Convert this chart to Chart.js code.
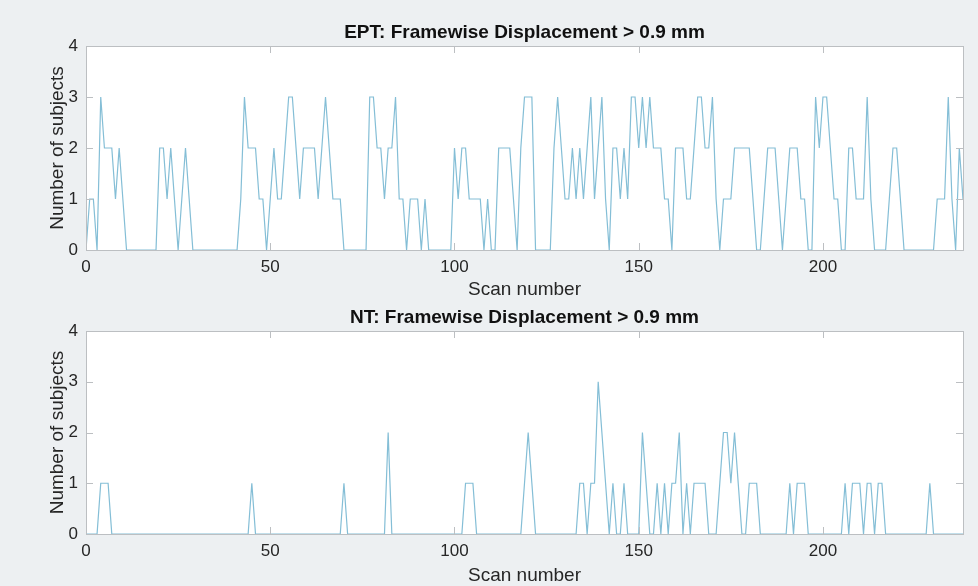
<!DOCTYPE html>
<html><head><meta charset="utf-8">
<script src="https://cdn.jsdelivr.net/npm/chart.js@4.4.1/dist/chart.umd.min.js"></script>
<style>
html,body{margin:0;padding:0;background:#edf0f2;}
#wrap{position:relative;width:978px;height:586px;overflow:hidden;background:#edf0f2;}
canvas{position:absolute;left:0;}
</style></head><body>
<div id="wrap">
<canvas id="c1" width="978" height="300" style="top:0"></canvas>
<canvas id="c2" width="978" height="286" style="top:300px"></canvas>
</div>
<script>
const scanStart = 0;
const scanEnd = 238;
const xTicks = [0, 50, 100, 150, 200];
const yTicks = [0, 1, 2, 3, 4];
const titles = ['EPT: Framewise Displacement > 0.9 mm', 'NT: Framewise Displacement > 0.9 mm'];
const xLabel = 'Scan number';
const yLabel = 'Number of subjects';

const eptCounts = [
  0,1,1,0,3,2,2,2,1,2,
  1,0,0,0,0,0,0,0,0,0,
  2,2,1,2,1,0,1,2,1,0,
  0,0,0,0,0,0,0,0,0,0,
  0,0,1,3,2,2,2,1,1,0,
  1,2,1,1,2,3,3,2,1,2,
  2,2,2,1,2,3,2,1,1,1,
  0,0,0,0,0,0,0,3,3,2,
  2,1,2,2,3,1,1,0,1,1,
  1,0,1,0,0,0,0,0,0,0,
  2,1,2,2,1,1,1,1,0,1,
  0,0,2,2,2,2,1,0,2,3,
  3,3,0,0,0,0,0,2,3,2,
  1,1,2,1,2,1,2,3,1,2,
  3,1,0,2,2,1,2,1,3,3,
  2,3,2,3,2,2,2,1,1,0,
  2,2,2,1,1,2,3,3,2,2,
  3,1,0,1,1,1,2,2,2,2,
  2,1,0,0,1,2,2,2,1,0,
  1,2,2,2,1,1,0,0,3,2,
  3,3,2,1,1,0,0,2,2,1,
  1,1,3,1,0,0,0,0,1,2,
  2,1,0,0,0,0,0,0,0,0,
  0,1,1,1,3,1,0,2,1
];

const ntCounts = [
  0,0,0,0,1,1,1,0,0,0,
  0,0,0,0,0,0,0,0,0,0,
  0,0,0,0,0,0,0,0,0,0,
  0,0,0,0,0,0,0,0,0,0,
  0,0,0,0,0,1,0,0,0,0,
  0,0,0,0,0,0,0,0,0,0,
  0,0,0,0,0,0,0,0,0,0,
  1,0,0,0,0,0,0,0,0,0,
  0,0,2,0,0,0,0,0,0,0,
  0,0,0,0,0,0,0,0,0,0,
  0,0,0,1,1,1,0,0,0,0,
  0,0,0,0,0,0,0,0,0,1,
  2,1,0,0,0,0,0,0,0,0,
  0,0,0,0,1,1,0,1,1,3,
  2,1,0,1,0,0,1,0,0,0,
  0,2,1,0,0,1,0,1,0,1,
  1,2,0,1,0,1,1,1,1,0,
  0,0,1,2,2,1,2,1,0,0,
  1,1,1,0,0,0,0,0,0,0,
  0,1,0,1,1,1,0,0,0,0,
  0,0,0,0,0,0,1,0,1,1,
  1,0,1,1,0,1,1,0,0,0,
  0,0,0,0,0,0,0,0,0,1,
  0,0,0,0,0,0,0,0,0
];

const FONT = '"Liberation Sans", Arial, Helvetica, sans-serif';
const LINE_COLOR = 'rgb(132,190,214)';
const BOX_COLOR = '#bcbfc2';
const TEXT_COLOR = '#262626';

const boxPlugin = {
  id: 'matlabBox',
  beforeDraw(chart) {
    const {ctx, chartArea: a} = chart;
    ctx.save();
    ctx.fillStyle = '#ffffff';
    ctx.fillRect(a.left, a.top, a.right - a.left, a.bottom - a.top);
    ctx.restore();
  },
  afterDatasetsDraw(chart, args, opts) {
    const {ctx, chartArea: a, scales} = chart;
    const tl = 7;
    ctx.save();
    ctx.strokeStyle = BOX_COLOR;
    ctx.lineWidth = 1;
    ctx.beginPath();
    xTicks.forEach(v => {
      const px = Math.round(scales.x.getPixelForValue(v)) + 0.5;
      ctx.moveTo(px, a.bottom); ctx.lineTo(px, a.bottom - tl);
      ctx.moveTo(px, a.top); ctx.lineTo(px, a.top + tl);
    });
    yTicks.forEach(v => {
      const py = Math.round(scales.y.getPixelForValue(v)) + 0.5;
      ctx.moveTo(a.left, py); ctx.lineTo(a.left + tl, py);
      ctx.moveTo(a.right, py); ctx.lineTo(a.right - tl, py);
    });
    ctx.stroke();
    ctx.strokeRect(Math.round(a.left) + 0.5, Math.round(a.top) + 0.5,
                   Math.round(a.right - a.left), Math.round(a.bottom - a.top));
    ctx.fillStyle = '#111';
    ctx.font = 'bold 19px ' + FONT;
    ctx.textAlign = 'center';
    ctx.textBaseline = 'middle';
    ctx.fillText(opts.text, (a.left + a.right) / 2, a.top - 13);
    ctx.restore();
  }
};

function makeChart(id, counts, title, plotTop, xAxisHeight) {
  const points = counts.map((v, i) => ({x: scanStart + i, y: v}));
  return new Chart(document.getElementById(id), {
    type: 'line',
    data: {datasets: [{data: points, borderColor: LINE_COLOR, borderWidth: 1.2,
      pointRadius: 0, tension: 0, fill: false}]},
    plugins: [boxPlugin],
    options: {
      responsive: false,
      devicePixelRatio: 1,
      animation: false,
      layout: {padding: {top: plotTop, left: 0, right: 15, bottom: 0}},
      plugins: {legend: {display: false}, tooltip: {enabled: false},
        matlabBox: {text: title}},
      scales: {
        x: {
          type: 'linear', min: scanStart, max: scanEnd,
          afterBuildTicks: s => { s.ticks = xTicks.map(v => ({value: v})); },
          afterFit: s => { s.height = xAxisHeight; },
          grid: {display: false, drawTicks: false},
          border: {display: false},
          ticks: {color: TEXT_COLOR, font: {family: FONT, size: 17}, padding: 7,
            maxRotation: 0, autoSkip: false},
          title: {display: true, text: xLabel, color: TEXT_COLOR,
            font: {family: FONT, size: 19, lineHeight: 1}, padding: {top: 0, bottom: 0.5}}
        },
        y: {
          type: 'linear', min: 0, max: 4,
          afterBuildTicks: s => { s.ticks = yTicks.map(v => ({value: v})); },
          afterFit: s => { s.width = 86; },
          grid: {display: false, drawTicks: false},
          border: {display: false},
          ticks: {color: TEXT_COLOR, font: {family: FONT, size: 17}, padding: 8},
          title: {display: true, text: yLabel, color: TEXT_COLOR,
            font: {family: FONT, size: 19, lineHeight: 1}, padding: {top: 48.5, bottom: 0}}
        }
      }
    }
  });
}

makeChart('c1', eptCounts, titles[0], 46, 50);
makeChart('c2', ntCounts, titles[1], 31, 52);
</script>
</body></html>
